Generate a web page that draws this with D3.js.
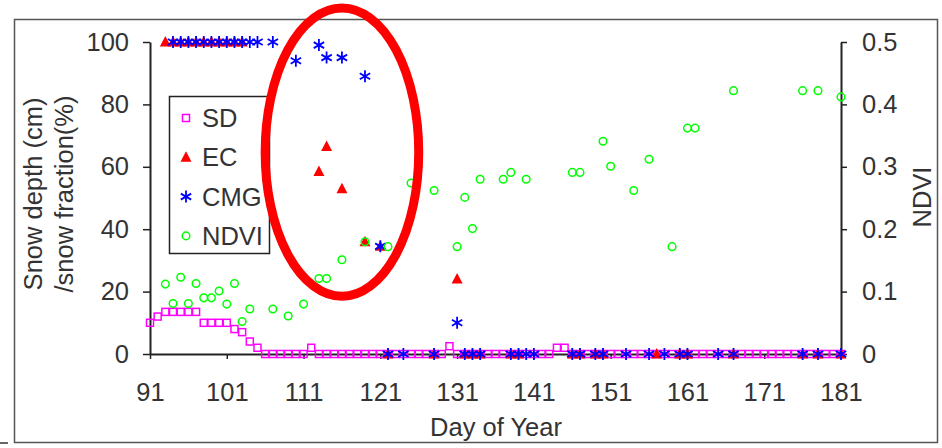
<!DOCTYPE html>
<html>
<head>
<meta charset="utf-8">
<script src="https://cdn.jsdelivr.net/npm/d3@7"></script>
<style>
body{margin:0;background:#fff;}
svg text{font-family:"Liberation Sans",Arial,sans-serif;fill:#333;}
</style>
</head>
<body>
<div id="chart"></div>
<script>
// snow depth (cm), one reading per day 91..181
var sdStart = 91;
var sdValues = [10,12,13.5,13.5,13.5,13.5,13.5,10,10,10,10,8,7,4,2,0,0,0,0,0,0,2,0,0,0,0,0,0,0,0,0,0,0,0,0,0,0,0,0,2.5,
	0,0,0,0,0,0,0,0,0,0,0,0,0,2,2,0,0,0,0,0,0,0,0,0,0,0,0,0,0,0,0,0,0,0,0,0,0,0,0,0,0,0,0,0,0,0,0,0,0,0,0];

// EC snow fraction (%)
var ecDays   = [93,94,95,96,97,98,99,100,101,102,103,113,114,116,119,121,122,128,131,132,133,134,138,139,146,147,149,150,157,160,161,167,176,178,181];
var ecValues = [100,100,100,100,100,100,100,100,100,100,100,58.5,66.5,53,36,34.5,0,0,24,0,0,0,0,0,0,0,0,0,0,0,0,0,0,0,0];

// CMG snow fraction (%)
var cmgDays   = [94,95,96,97,98,99,100,101,102,103,104,105,107,110,113,114,116,119,121,122,124,128,131,132,133,134,138,139,140,141,146,147,149,150,153,156,158,160,161,165,167,176,178,181];
var cmgValues = [100,100,100,100,100,100,100,100,100,100,100,100,100,94,99,95,95,89,34.5,0,0,0,10,0,0,0,0,0,0,0,0,0,0,0,0,0,0,0,0,0,0,0,0,0];

// NDVI (right axis)
var ndviDays   = [93,94,95,96,97,98,99,100,101,102,103,104,107,109,111,113,114,116,119,122,125,128,131,132,133,134,137,138,140,146,147,150,151,154,156,159,161,162,167,176,178,181];
var ndviValues = [0.112,0.081,0.123,0.081,0.113,0.090,0.090,0.101,0.080,0.113,0.052,0.072,0.072,0.061,0.080,0.121,0.121,0.151,0.180,0.172,0.274,0.262,0.172,0.251,0.201,0.280,0.280,0.291,0.280,0.291,0.291,0.341,0.301,0.262,0.312,0.172,0.362,0.362,0.422,0.422,0.422,0.412];

var xTicks = [91,101,111,121,131,141,151,161,171,181];
var yTicks = [0,20,40,60,80,100];
var y2Ticks = [0,0.1,0.2,0.3,0.4,0.5];

var width = 942, height = 448;

var svg = d3.select('#chart').append('svg')
	.attr('width', width)
	.attr('height', height);

// outer frame
svg.append('rect')
	.attr('x', 14.5).attr('y', 19.5)
	.attr('width', 923).attr('height', 423)
	.attr('fill', 'none').attr('stroke', '#555').attr('stroke-width', 1.5);
svg.append('line')
	.attr('x1', 0).attr('x2', 8).attr('y1', 443).attr('y2', 443)
	.attr('stroke', '#333').attr('stroke-width', 1.5);

var x = d3.scaleLinear().domain([91, 181]).range([150, 841]);
var y = d3.scaleLinear().domain([0, 100]).range([354, 42]);
var y2 = d3.scaleLinear().domain([0, 0.5]).range([354, 42]);

var fs = '25.5px';

var gx = svg.append('g')
	.attr('transform', 'translate(0,' + y(0) + ')')
	.call(d3.axisBottom(x).tickValues(xTicks).tickSize(5).tickPadding(24).tickSizeOuter(0));
var gy = svg.append('g')
	.attr('transform', 'translate(' + x(91) + ',0)')
	.call(d3.axisLeft(y).tickValues(yTicks).tickSize(7).tickPadding(14).tickSizeOuter(0));
var gy2 = svg.append('g')
	.attr('transform', 'translate(' + x(181) + ',0)')
	.call(d3.axisRight(y2).tickValues(y2Ticks).tickFormat(d3.format('')).tickSize(6).tickPadding(15).tickSizeOuter(0));

[gx, gy, gy2].forEach(function(g){
	g.selectAll('path.domain').attr('stroke', '#222').attr('stroke-width', 2);
	g.selectAll('.tick line').attr('stroke', '#222').attr('stroke-width', 1.5);
	g.selectAll('text').style('font-size', fs).attr('fill', '#333');
});

// axis titles
svg.append('text')
	.attr('x', 496).attr('y', 436)
	.attr('text-anchor', 'middle')
	.style('font-size', fs)
	.text('Day of Year');

svg.append('text')
	.attr('transform', 'translate(42,194) rotate(-90)')
	.attr('text-anchor', 'middle')
	.style('font-size', fs)
	.text('Snow depth (cm)');
svg.append('text')
	.attr('transform', 'translate(73,194) rotate(-90)')
	.attr('text-anchor', 'middle')
	.style('font-size', fs)
	.text('/snow fraction(%)');

svg.append('text')
	.attr('transform', 'translate(931,197) rotate(-90)')
	.attr('text-anchor', 'middle')
	.style('font-size', fs)
	.text('NDVI');

// marker shapes
var triPath = 'M0,-6L5.5,4.5L-5.5,4.5Z';
var starPath = 'M0,-6V6M-5.2,-3L5.2,3M-5.2,3L5.2,-3';

var plot = svg.append('g');

plot.selectAll('rect.sd')
	.data(sdValues)
	.enter()
	.append('rect')
	.attr('class', 'sd')
	.attr('x', function(d, i){ return x(sdStart + i) - 3.5; })
	.attr('y', function(d){ return y(d) - 3.5; })
	.attr('width', 7).attr('height', 7)
	.attr('fill', 'none')
	.attr('stroke', '#ff00ff')
	.attr('stroke-width', 1.5);

plot.selectAll('path.ec')
	.data(ecValues)
	.enter()
	.append('path')
	.attr('class', 'ec')
	.attr('d', triPath)
	.attr('transform', function(d, i){ return 'translate(' + x(ecDays[i]) + ',' + y(d) + ')'; })
	.attr('fill', '#ff0000');

plot.selectAll('path.cmg')
	.data(cmgValues)
	.enter()
	.append('path')
	.attr('class', 'cmg')
	.attr('d', starPath)
	.attr('transform', function(d, i){ return 'translate(' + x(cmgDays[i]) + ',' + y(d) + ')'; })
	.attr('fill', 'none')
	.attr('stroke', '#0000ff')
	.attr('stroke-width', 1.8);

plot.selectAll('circle.ndvi')
	.data(ndviValues)
	.enter()
	.append('circle')
	.attr('class', 'ndvi')
	.attr('cx', function(d, i){ return x(ndviDays[i]); })
	.attr('cy', function(d){ return y2(d); })
	.attr('r', 3.8)
	.attr('fill', 'none')
	.attr('stroke', '#00ff00')
	.attr('stroke-width', 1.5);

// legend
var legend = svg.append('g');
legend.append('rect')
	.attr('x', 169.5).attr('y', 96.5)
	.attr('width', 100).attr('height', 157)
	.attr('fill', '#fff').attr('stroke', '#222').attr('stroke-width', 1.5);

var legendNames = ['SD', 'EC', 'CMG', 'NDVI'];
legendNames.forEach(function(name, i){
	var ly = 118 + i * 39.3;
	if (name == 'SD') {
		legend.append('rect').attr('x', 182.5).attr('y', ly - 3.5).attr('width', 7).attr('height', 7)
			.attr('fill', 'none').attr('stroke', '#ff00ff').attr('stroke-width', 1.5);
	} else if (name == 'EC') {
		legend.append('path').attr('d', triPath).attr('transform', 'translate(186,' + ly + ')').attr('fill', '#ff0000');
	} else if (name == 'CMG') {
		legend.append('path').attr('d', starPath).attr('transform', 'translate(186,' + ly + ')')
			.attr('stroke', '#0000ff').attr('stroke-width', 1.8).attr('fill', 'none');
	} else {
		legend.append('circle').attr('cx', 186).attr('cy', ly).attr('r', 3.8)
			.attr('fill', 'none').attr('stroke', '#00ff00').attr('stroke-width', 1.5);
	}
	legend.append('text')
		.attr('x', 202).attr('y', ly)
		.attr('dy', '0.36em')
		.style('font-size', fs)
		.text(name);
});

// red ellipse highlighting the melt period
svg.append('ellipse')
	.attr('cx', x(116)).attr('cy', y(64.7))
	.attr('rx', x(126) - x(116)).attr('ry', y(0) - y(46.2))
	.attr('fill', 'none')
	.attr('stroke', '#ff0000')
	.attr('stroke-width', 9);
</script>
</body>
</html>
